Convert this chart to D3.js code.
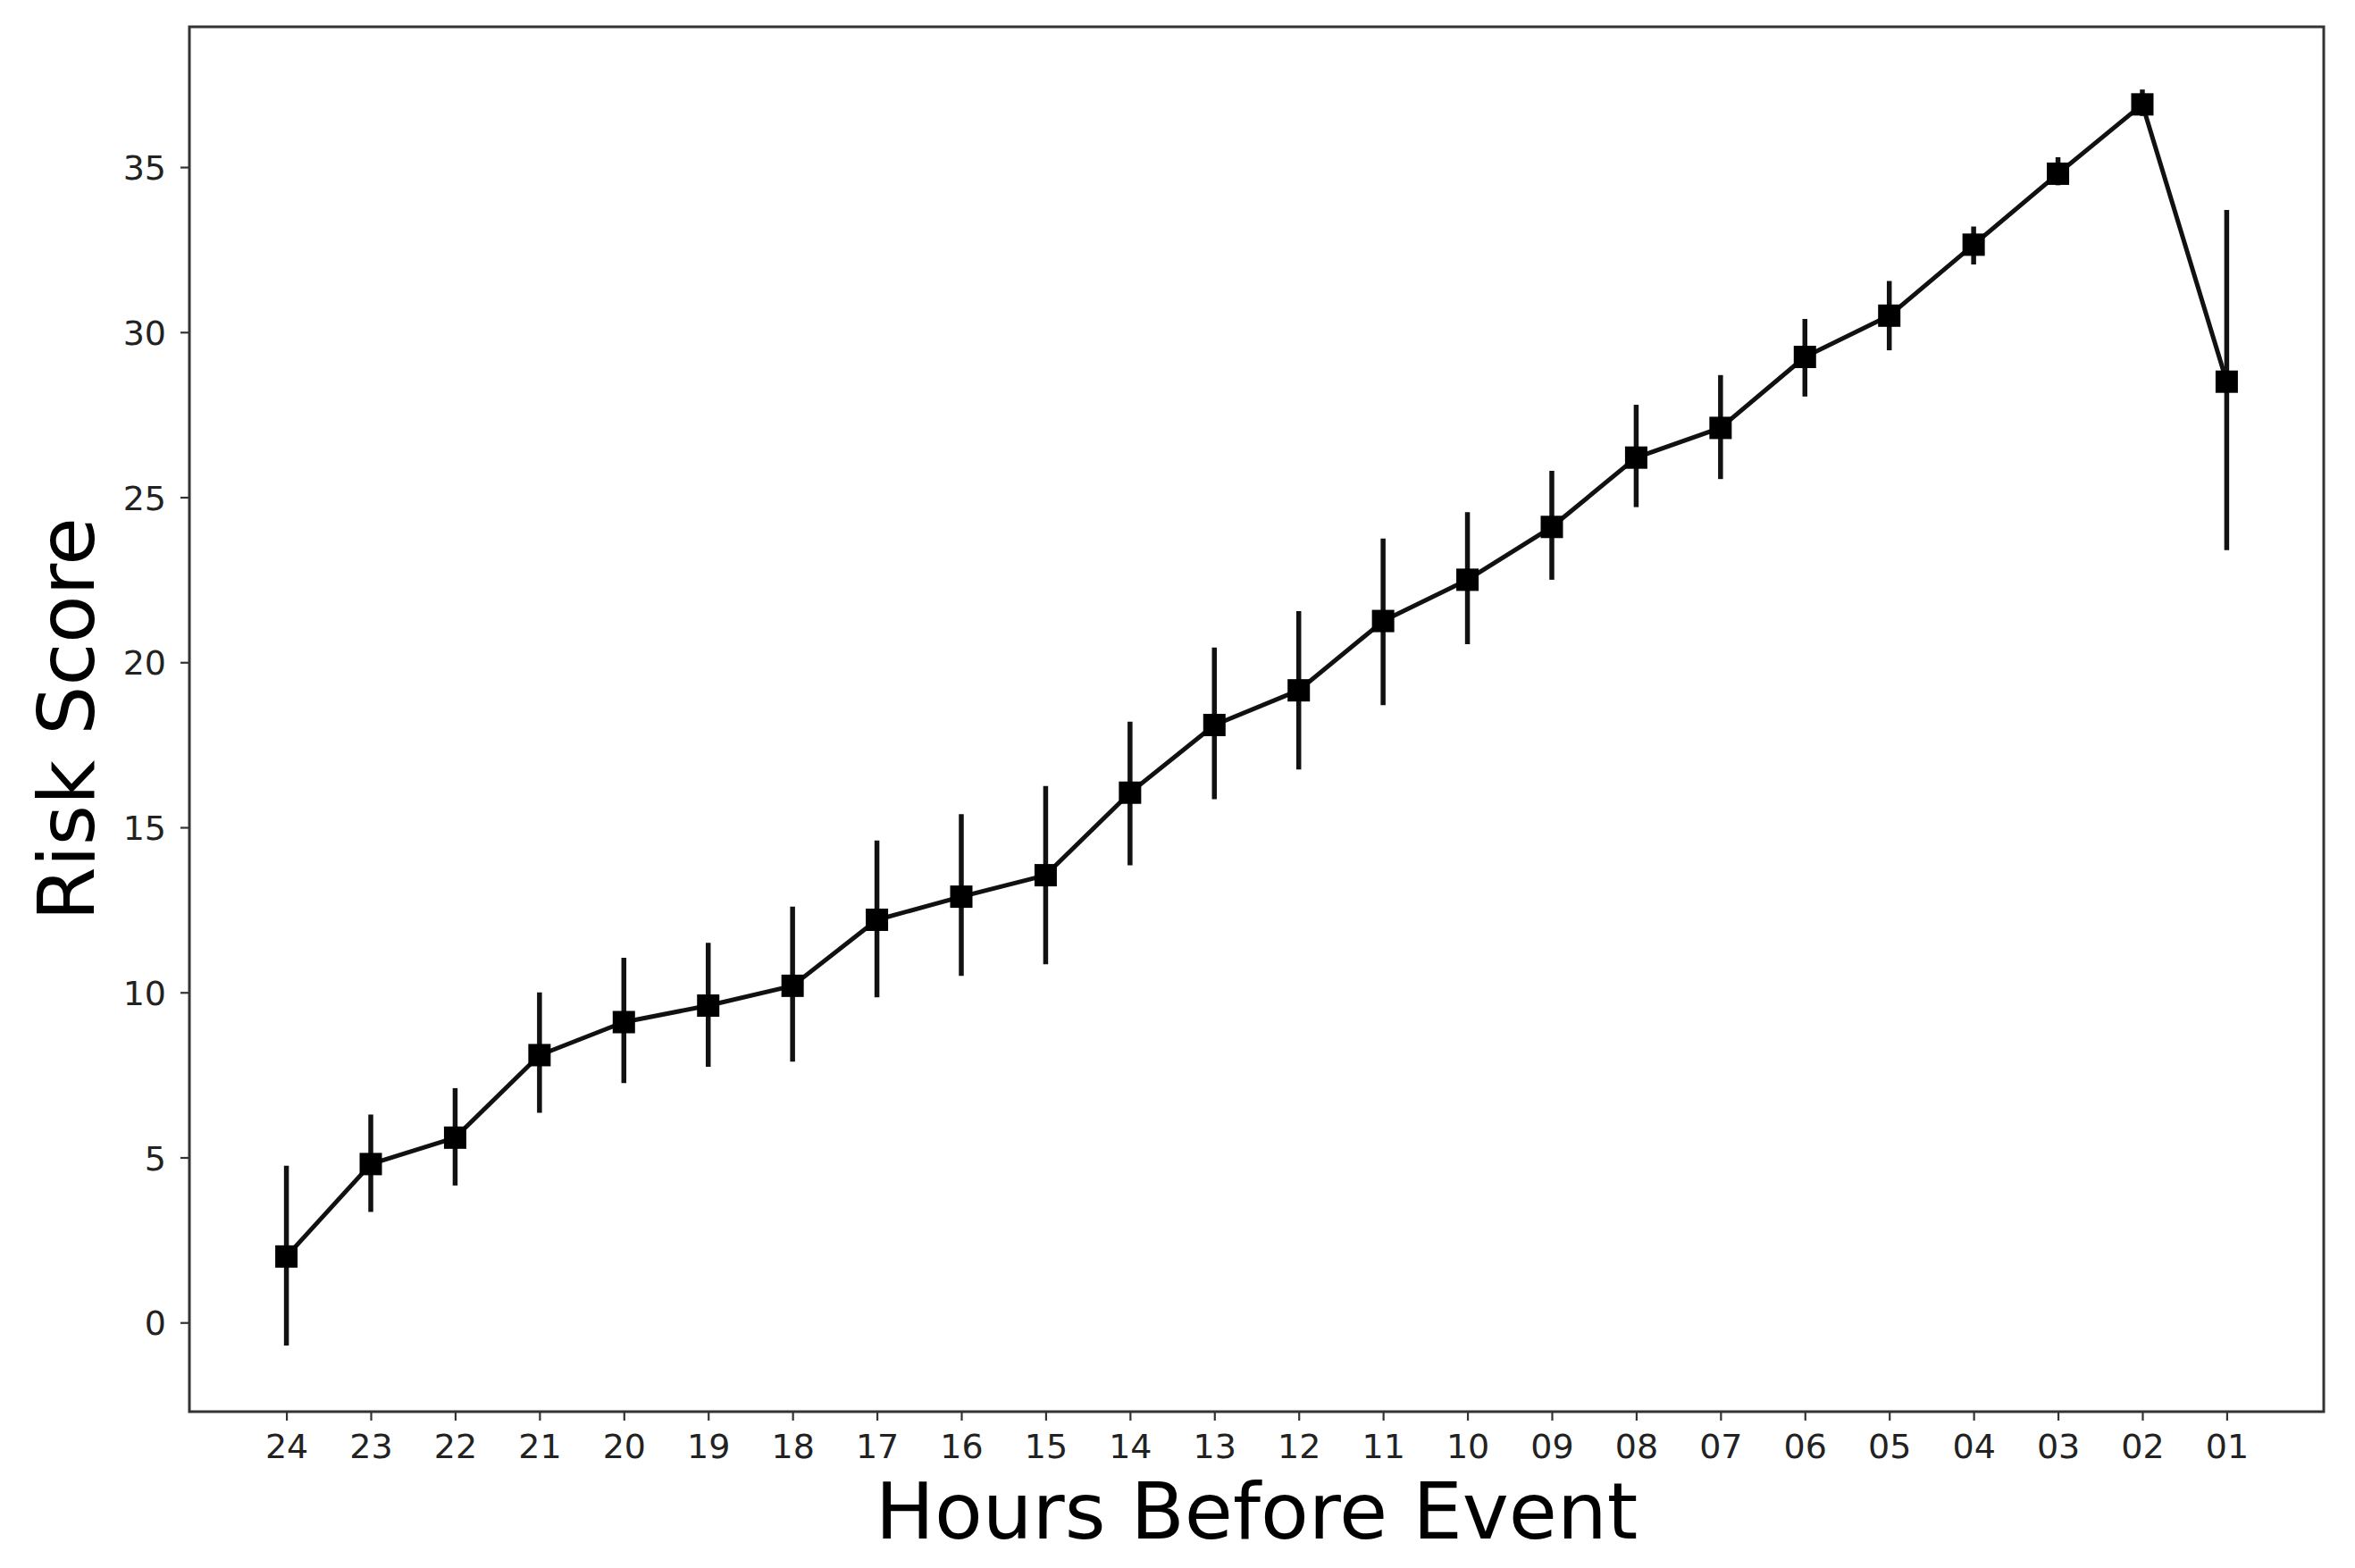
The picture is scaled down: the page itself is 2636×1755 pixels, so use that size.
<!DOCTYPE html>
<html>
<head>
<meta charset="utf-8">
<script src="https://cdn.jsdelivr.net/npm/d3@7"></script>
<style>
  html, body { margin: 0; padding: 0; background: #fff; }
  svg { display: block; }
</style>
</head>
<body>
<script>
// ---- data ----
const hours = ["24","23","22","21","20","19","18","17","16","15","14","13","12","11","10","09","08","07","06","05","04","03","02","01"];
const riskMean = [2.0, 4.8, 5.6, 8.1, 9.1, 9.6, 10.2, 12.2, 12.9, 13.55, 16.05, 18.1, 19.15, 21.25, 22.5, 24.1, 26.2, 27.1, 29.25, 30.5, 32.65, 34.8, 36.9, 28.5];
const riskLow  = [-0.7, 3.35, 4.15, 6.35, 7.25, 7.75, 7.9, 9.85, 10.5, 10.85, 13.85, 15.85, 16.75, 18.7, 20.55, 22.5, 24.7, 25.55, 28.05, 29.45, 32.05, 34.45, 36.55, 23.4];
const riskHigh = [4.75, 6.3, 7.1, 10.0, 11.05, 11.5, 12.6, 14.6, 15.4, 16.25, 18.2, 20.45, 21.55, 23.75, 24.55, 25.8, 27.8, 28.7, 30.4, 31.55, 33.2, 35.3, 37.35, 33.7];
const yTicks = [0, 5, 10, 15, 20, 25, 30, 35];
const xLabel = "Hours Before Event";
const yLabel = "Risk Score";

// ---- layout ----
const W = 2636, H = 1755;
const mLeft = 212, mRight = 2601, mTop = 30, mBottom = 1580;
const FONT = "DejaVu Sans";

const svg = d3.select("body").append("svg").attr("width", W).attr("height", H);

const idx = d3.range(hours.length);
const x = d3.scaleLinear().domain([-1.15, hours.length - 1 + 1.15]).range([mLeft, mRight]);
const y = d3.scaleLinear().domain([-2.7, 39.25]).range([mBottom, mTop]);

// axes
const xAxis = d3.axisBottom(x).tickValues(idx).tickFormat(i => hours[i]).tickSizeOuter(0).tickSize(10).tickPadding(15);
const yAxis = d3.axisLeft(y).tickValues(yTicks).tickFormat(d3.format("d")).tickSizeOuter(0).tickSize(10).tickPadding(16);

const gx = svg.append("g").attr("transform", `translate(0,${mBottom})`).call(xAxis);
const gy = svg.append("g").attr("transform", `translate(${mLeft},0)`).call(yAxis);
[gx, gy].forEach(g => {
  g.select(".domain").remove();
  g.selectAll(".tick line").attr("stroke", "#333").attr("stroke-width", 2.2);
  g.selectAll(".tick text").attr("fill", "#222").style("font-family", FONT).style("font-size", "38px");
});
gy.selectAll(".tick text").attr("dy", "0.36em");

// frame
svg.append("rect")
  .attr("x", mLeft).attr("y", mTop).attr("width", mRight - mLeft).attr("height", mBottom - mTop)
  .attr("fill", "none").attr("stroke", "#333").attr("stroke-width", 3);

// error bars
svg.append("g").selectAll("line").data(idx).join("line")
  .attr("x1", i => x(i)).attr("x2", i => x(i))
  .attr("y1", i => y(riskLow[i])).attr("y2", i => y(riskHigh[i]))
  .attr("stroke", "#111").attr("stroke-width", 5.5);

// line
const line = d3.line().x(i => x(i)).y(i => y(riskMean[i]));
svg.append("path").datum(idx).attr("d", line)
  .attr("fill", "none").attr("stroke", "#111").attr("stroke-width", 5).attr("stroke-linejoin", "round");

// markers
const ms = 25;
svg.append("g").selectAll("rect").data(idx).join("rect")
  .attr("x", i => x(i) - ms / 2).attr("y", i => y(riskMean[i]) - ms / 2)
  .attr("width", ms).attr("height", ms).attr("fill", "#000");

// axis labels
svg.append("text").text(xLabel)
  .attr("x", (mLeft + mRight) / 2).attr("y", 1722)
  .attr("text-anchor", "middle").attr("fill", "#000")
  .style("font-family", FONT).style("font-size", "88px");

svg.append("text").text(yLabel)
  .attr("transform", `translate(105,${(mTop + mBottom) / 2}) rotate(-90)`)
  .attr("text-anchor", "middle").attr("fill", "#000")
  .style("font-family", FONT).style("font-size", "87px");
</script>
</body>
</html>
